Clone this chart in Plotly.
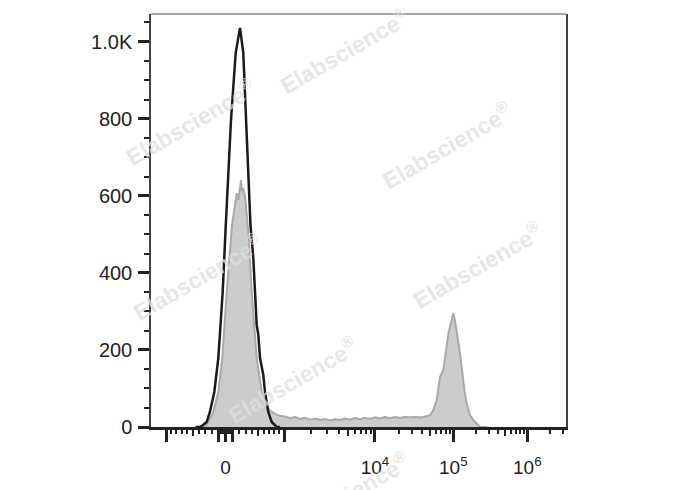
import numpy as np
import plotly.graph_objects as go

FONT = "Liberation Sans, Arial, sans-serif"

# ---------------- data (display channel, events) ----------------
gray_channel = [120.0, 128.3, 135.0, 141.4, 153.7, 166.1, 175.9, 186.8, 199.9, 211.5, 215.9,
                219.6, 222.1, 224.5, 227.0, 231.9, 235.6, 240.6, 248.5, 260.8, 273.2, 285.5,
                291.2, 297.8, 306.0, 318.3, 330.6, 343.0, 355.3, 367.7, 380.0, 392.3, 404.7,
                417.0, 429.3, 441.7, 454.0, 466.4, 478.7, 491.0, 503.4, 515.7, 528.0, 540.4,
                552.7, 565.1, 577.4, 589.7, 602.1, 614.4, 626.7, 639.1, 651.4, 663.8, 676.1,
                688.4, 696.6, 705.0, 709.4, 713.1, 721.3, 725.5, 729.7, 734.1, 737.8, 741.5,
                745.9, 750.1, 754.3, 758.2, 762.4, 766.6, 770.5, 774.7, 778.9, 782.9, 787.1,
                795.2, 803.7, 811.8, 830.0]
gray_counts = [0, 0, 2, 13, 39, 91, 179, 350, 524, 607, 590,
               628, 641, 612, 620, 600, 563, 500, 350, 179, 91, 57,
               45, 39, 34, 29, 27, 23, 26, 21, 24, 19, 22,
               18, 21, 17, 20, 18, 22, 19, 23, 20, 24, 21,
               25, 22, 26, 23, 26, 24, 26, 25, 26, 25, 27,
               31, 44, 70, 100, 130, 148, 185, 217, 245, 260, 275,
               295, 275, 252, 222, 191, 150, 113, 85, 61, 45, 31,
               18, 8, 0, 0]

black_channel = [110.0, 120.9, 128.3, 137.4, 145.4, 156.2, 166.1, 176.9, 184.3, 188.8, 197.4,
                 209.0, 219.6, 227.7, 234.4, 241.8, 245.5, 252.4, 260.8, 264.8, 269.0, 277.1,
                 281.3, 289.4, 297.8, 310.2, 318.3]
black_counts = [0, 0, 5, 13, 39, 91, 179, 350, 519, 623, 797,
                971, 1036, 971, 797, 623, 524, 439, 265, 239, 179, 135,
                91, 39, 13, 0, 0]

# ---------------- biexponential-like axis scale ----------------
DECADE_VALUES = [-1e3, 0, 1e3, 1e4, 1e5, 1e6, 1e7]
DECADE_CHANNELS = [38.7, 183.8, 328.2, 552.7, 745.9, 928.5, 1111.0]
LINEAR_WIDTH = 900.0


def to_channel(v):
    c0 = DECADE_CHANNELS[1]
    if abs(v) <= 1000:
        frac = np.arcsinh(abs(v) / LINEAR_WIDTH) / np.arcsinh(1000 / LINEAR_WIDTH)
        if v >= 0:
            return c0 + frac * (DECADE_CHANNELS[2] - c0)
        return c0 - frac * (c0 - DECADE_CHANNELS[0])
    k = int(np.floor(np.log10(v)))
    i = DECADE_VALUES.index(10.0 ** k)
    f = np.log10(v) - k
    return DECADE_CHANNELS[i] + f * (DECADE_CHANNELS[i + 1] - DECADE_CHANNELS[i])


major_values = [-1000, -100, 0, 100, 1000, 1e4, 1e5, 1e6]
major_text = ["", "", "0", "", "", "10<sup>4</sup>", "10<sup>5</sup>", "10<sup>6</sup>"]
medium_values = [-500, 500, 5e3, 5e4, 5e5]
minor_values = ([-900, -800, -700, -600, -400, -300, -200]
                + list(range(-90, 0, 10)) + list(range(10, 100, 10))
                + [200, 300, 400, 600, 700, 800, 900]
                + [m * 10 ** e for e in (3, 4, 5) for m in (2, 3, 4, 6, 7, 8, 9)]
                + [2e6, 3e6])

y_major = [0, 200, 400, 600, 800, 1000]
y_major_text = ["0", "200", "400", "600", "800", "1.0K"]

fig = go.Figure()
fig.add_trace(go.Scatter(x=gray_channel, y=gray_counts, mode="lines", fill="tozeroy",
                         fillcolor="#cccccc", line=dict(color="#a9a9a9", width=2),
                         showlegend=False, hoverinfo="skip"))
fig.add_trace(go.Scatter(x=black_channel, y=black_counts, mode="lines",
                         line=dict(color="#1a1a1a", width=2.5),
                         showlegend=False, hoverinfo="skip"))
# carrier trace for the overlay axis with the medium ticks
fig.add_trace(go.Scatter(x=[None], y=[None], xaxis="x2", showlegend=False, hoverinfo="skip"))

fig.update_layout(
    width=680, height=482,
    margin=dict(l=143, r=122, t=6, b=63),
    paper_bgcolor="white", plot_bgcolor="white",
    font=dict(family=FONT, color="#222222"),
    xaxis=dict(range=[0, 1024], tickmode="array",
               tickvals=[to_channel(v) for v in major_values], ticktext=major_text,
               ticks="outside", ticklen=12, tickwidth=3, tickcolor="#222222",
               showline=True, linecolor="#222222", linewidth=2.5,
               showgrid=False, zeroline=False,
               tickfont=dict(size=19, family=FONT, color="#222222"),
               ticklabelstandoff=9,
               minor=dict(tickmode="array", tickvals=[to_channel(v) for v in minor_values],
                          ticks="outside", ticklen=4.5, tickwidth=1.5,
                          tickcolor="#222222", showgrid=False)),
    xaxis2=dict(overlaying="x", matches="x", anchor="y", side="bottom",
                tickmode="array", tickvals=[to_channel(v) for v in medium_values],
                showticklabels=False, ticks="outside", ticklen=8, tickwidth=2,
                tickcolor="#222222", showline=False, showgrid=False, zeroline=False),
    yaxis=dict(range=[0, 1072], tickmode="array", tickvals=y_major, ticktext=y_major_text,
               ticks="outside", ticklen=11, tickwidth=3, tickcolor="#222222",
               showline=True, linecolor="#444444", linewidth=1.5, mirror=True,
               showgrid=False, zeroline=False,
               tickfont=dict(size=20, family=FONT, color="#222222"),
               ticklabelstandoff=2,
               minor=dict(dtick=50, tick0=0, ticks="outside", ticklen=5, tickwidth=1.5,
                          tickcolor="#222222", showgrid=False)),
    shapes=[dict(type="line", xref="paper", yref="paper", x0=0, x1=1, y0=1, y1=1,
                 line=dict(color="#888888", width=1.5))],
)

watermarks = [(0.467, 0.913), (0.094, 0.738), (0.713, 0.683), (0.111, 0.363),
              (0.786, 0.392), (0.340, 0.114), (0.467, -0.165)]
for wx, wy in watermarks:
    fig.add_annotation(x=wx, y=wy, xref="paper", yref="paper",
                       text="Elabscience<sup>®</sup>", xanchor="center", yanchor="middle",
                       showarrow=False, textangle=-30,
                       font=dict(size=23, family=FONT, color="rgba(222,222,222,0.75)",
                                 weight="bold"))

fig.write_html("out.html")
